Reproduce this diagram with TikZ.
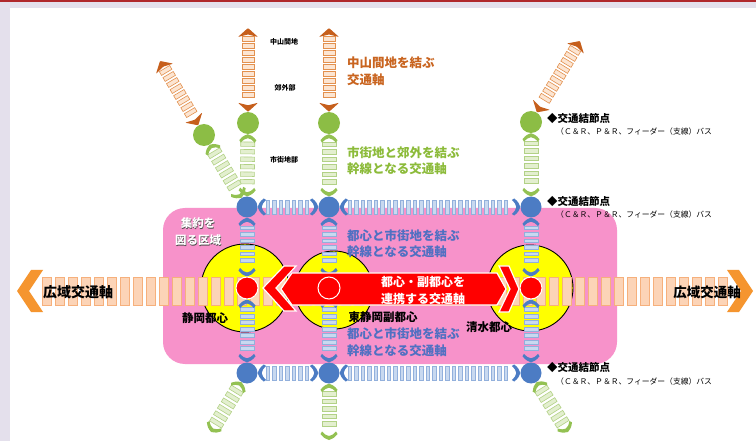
\documentclass[tikz,border=0pt]{standalone}
\usepackage{fontspec}
\setmainfont{Noto Sans CJK JP}
\usetikzlibrary{decorations.markings}

\definecolor{lav}{HTML}{E4E0EC}
\definecolor{topred}{HTML}{B0282C}
\definecolor{pinkc}{HTML}{F792CA}
\definecolor{yel}{HTML}{FFFF00}
\definecolor{redc}{HTML}{FF0000}
\definecolor{bluec}{HTML}{4C7CC4}
\definecolor{blrf}{HTML}{C8D9F0}
\definecolor{blro}{HTML}{92B0DC}
\definecolor{greenc}{HTML}{8CBD45}
\definecolor{grf}{HTML}{E3EFCF}
\definecolor{gro}{HTML}{B2D186}
\definecolor{greentip}{HTML}{93C152}
\definecolor{browntip}{HTML}{C65F1C}
\definecolor{brf}{HTML}{FCE5D2}
\definecolor{bro}{HTML}{E3914F}
\definecolor{bandf}{HTML}{FCD4B7}
\definecolor{bando}{HTML}{F6B07C}
\definecolor{bandtip}{HTML}{F5952F}
\definecolor{bluetext}{HTML}{5070C2}
\definecolor{greentext}{HTML}{8CBB3A}
\definecolor{browntext}{HTML}{C9641F}

\pgfdeclarelayer{bg}
\pgfdeclarelayer{mid}
\pgfdeclarelayer{front}
\pgfsetlayers{bg,mid,main,front}

\newcommand{\fs}[1]{\fontsize{#1}{#1}\selectfont}
\newcommand{\tipCurve}[2]{\fill[#1,xscale=#2] (0,0) .. controls (-2,5) .. (-6,8.5) -- (-8.5,7) .. controls (-5,3.5) .. (-4,0) .. controls (-5,-3.5) .. (-8.5,-7) -- (-6,-8.5) .. controls (-2,-5) .. (0,0) -- cycle;}
\newcommand{\tipBlue}[1]{\tipCurve{bluec}{#1}}
\newcommand{\tipGreen}[1]{\tipCurve{greentip}{#1}}
\newcommand{\tipBrown}[1]{\fill[browntip,xscale=#1,rounded corners=0.8pt] (0,0) -- (-9,10) -- (-6.5,0) -- (-9,-10) -- cycle;}
\newcommand{\tipBand}[1]{\fill[bandtip,xscale=#1] (0,0) -- (-14,21) -- (-26,21) -- (-12,0) -- (-26,-21) -- (-14,-21) -- cycle;}

\tikzset{
  ribaxis/.style n args={7}{
    postaction={decorate,decoration={markings,
      mark=between positions #1 and -#1 step #2 with {\filldraw[fill=#5,draw=#6,line width=0.6pt] (-#3,-#4) rectangle (#3,#4);}}},
    postaction={decorate,decoration={markings,
      mark=at position 0 with {#7{-1}},
      mark=at position 1 with {#7{1}}}}
  },
  blueax/.style={ribaxis={10pt}{6.5pt}{1.8}{7}{blrf}{blro}{\tipBlue}},
  greenax/.style={ribaxis={10pt}{7.5pt}{2.2}{7}{grf}{gro}{\tipGreen}},
  brownax/.style={ribaxis={11pt}{7pt}{2.2}{6}{brf}{bro}{\tipBrown}},
  bandax/.style={ribaxis={30pt}{13pt}{4.5}{14}{bandf}{bando}{\tipBand}},
  bnode/.style={circle,fill=bluec,minimum size=21pt,inner sep=0pt},
  gnode/.style={circle,fill=greenc,minimum size=22pt,inner sep=0pt},
  rnode/.style={circle,fill=redc,draw=white,line width=1pt,minimum size=22pt,inner sep=0pt},
  redpart/.style={fill=redc,draw=white,line width=1.2pt},
  ycirc/.style={fill=yel,draw=black,line width=0.9pt},
  axtext/.style={anchor=west,align=left,inner sep=0pt,font=\bfseries\fontsize{12.5}{16.5}\selectfont},
  redtext/.style={anchor=west,inner sep=0pt,text=white,font=\bfseries\fs{12}},
  ctext/.style={inner sep=0pt,font=\bfseries\fs{11.5}},
  small/.style={inner sep=0pt,font=\bfseries\fs{7}},
  nodehead/.style={anchor=west,inner sep=0pt,font=\bfseries\fs{10.5}},
  nodesub/.style={anchor=west,inner sep=0pt,font=\fs{7.8}},
}

\begin{document}
\begin{tikzpicture}[x=1pt,y=-1pt]
\useasboundingbox (0,0) rectangle (756,441);

\begin{pgfonlayer}{bg}
  \fill[white] (0,0) rectangle (756,441);
  \fill[lav] (0,0) rectangle (10,441);
  \fill[lav] (0,0) rectangle (756,8.5);
  \fill[topred] (0,0) rectangle (756,1.6);
  \fill[pinkc,rounded corners=22pt] (163,208) rectangle (617,364);
  \filldraw[ycirc] (245,288) circle[radius=44];
  \filldraw[ycirc] (334,290) circle[radius=39];
  \filldraw[ycirc] (530,288) circle[radius=43];
\end{pgfonlayer}

% wide-area axis
\coordinate (bandL) at (17,291);
\coordinate (bandR) at (753,291);
\begin{pgfonlayer}{mid}
  \path[bandax] (bandL) -- (bandR);
\end{pgfonlayer}

% nodes
\node[bnode] (b1t) at (247,207) {};
\node[bnode] (b2t) at (329,207) {};
\node[bnode] (b3t) at (531,207) {};
\node[bnode] (b1b) at (247,373) {};
\node[bnode] (b2b) at (329,373) {};
\node[bnode] (b3b) at (531,373) {};
\node[gnode] (g1) at (248,123) {};
\node[gnode] (g1d) at (204,135) {};
\node[gnode] (g2) at (329,123) {};
\node[gnode] (g3) at (531,122) {};

\coordinate (o1top) at (248,28);
\coordinate (o2top) at (329,28);
\coordinate (o1d) at (160,61);
\coordinate (o3) at (580,41);
\coordinate (gb1) at (211,432);
\coordinate (gb2) at (329,440);
\coordinate (gb3) at (568,432);

\begin{pgfonlayer}{front}
  \filldraw[redpart] (263,288) -- (284,266) -- (296,266) -- (276,288) -- (296,311) -- (284,311) -- cycle;
  \filldraw[redpart] (292,273) -- (497,273) -- (506,289) -- (497,305) -- (292,305) -- (281,289) -- cycle;
  \filldraw[redpart] (499,266) -- (509,266) -- (519,289) -- (509,312) -- (499,312) -- (510,289) -- cycle;
  \node[rnode] (r1) at (247,288) {};
  \node[rnode] (r2) at (329,288) {};
  \node[rnode] (r3) at (531,288) {};

  \node[redtext] (t8a) at (381,282) {都心・副都心を};
  \node[redtext] (t8b) at (381,299) {連携する交通軸};
  \node[ctext] (t9) at (205,318) {静岡都心};
  \node[ctext] (t10) at (383,317) {東静岡副都心};
  \node[ctext] (t11) at (489,327) {清水都心};
  \node[inner sep=0pt,text=black!70,align=center,font=\bfseries\fontsize{11.5}{17}\selectfont] (t12s) at (198.7,232.2) {集約を\\図る区域};
  \node[inner sep=0pt,text=white,align=center,font=\bfseries\fontsize{11.5}{17}\selectfont] (t12) at (198,231.5) {集約を\\図る区域};
  \node[inner sep=0pt,font=\bfseries\fs{14}] (t13) at (78,292) {広域交通軸};
  \node[inner sep=0pt,font=\bfseries\fs{13.5}] (t14) at (707,292) {広域交通軸};
\end{pgfonlayer}

% brown axes (mountain areas)
\path[brownax] (o1top) -- (g1);
\path[brownax] (o2top) -- (g2);
\path[brownax] (o1d) -- (g1d);
\path[brownax] (o3) -- (g3);
% green axes
\path[greenax] (g1) -- (b1t);
\path[greenax] (g1d) -- (b1t);
\path[greenax] (g2) -- (b2t);
\path[greenax] (g3) -- (b3t);
\path[greenax] (b1b) -- (gb1);
\path[greenax] (b2b) -- (gb2);
\path[greenax] (b3b) -- (gb3);
% blue axes
\path[blueax] (b1t) -- (b2t);
\path[blueax] (b2t) -- (b3t);
\path[blueax] (b1b) -- (b2b);
\path[blueax] (b2b) -- (b3b);
\path[blueax] (b1t) -- (r1);
\path[blueax] (r1) -- (b1b);
\path[blueax] (b2t) -- (r2);
\path[blueax] (r2) -- (b2b);
\path[blueax] (b3t) -- (r3);
\path[blueax] (r3) -- (b3b);

% labels
\node[small] (t1) at (284,42) {中山間地};
\node[small] (t2) at (285,88) {郊外部};
\node[small] (t3) at (284,160) {市街地部};
\node[axtext,text=browntext] (t4) at (347,71.5) {中山間地を結ぶ\\交通軸};
\node[axtext,text=greentext] (t5) at (347,160.5) {市街地と郊外を結ぶ\\幹線となる交通軸};
\node[axtext,text=bluetext] (t6) at (347,243.5) {都心と市街地を結ぶ\\幹線となる交通軸};
\node[axtext,text=bluetext] (t7) at (347,342) {都心と市街地を結ぶ\\幹線となる交通軸};

\node[nodehead] (h1) at (547,119) {◆交通結節点};
\node[nodesub] (s1) at (556,132) {（Ｃ＆Ｒ、Ｐ＆Ｒ、フィーダー（支線）バス};
\node[nodehead] (h2) at (547,202) {◆交通結節点};
\node[nodesub] (s2) at (556,215) {（Ｃ＆Ｒ、Ｐ＆Ｒ、フィーダー（支線）バス};
\node[nodehead] (h3) at (547,368) {◆交通結節点};
\node[nodesub] (s3) at (556,382) {（Ｃ＆Ｒ、Ｐ＆Ｒ、フィーダー（支線）バス};
\end{tikzpicture}
\end{document}
